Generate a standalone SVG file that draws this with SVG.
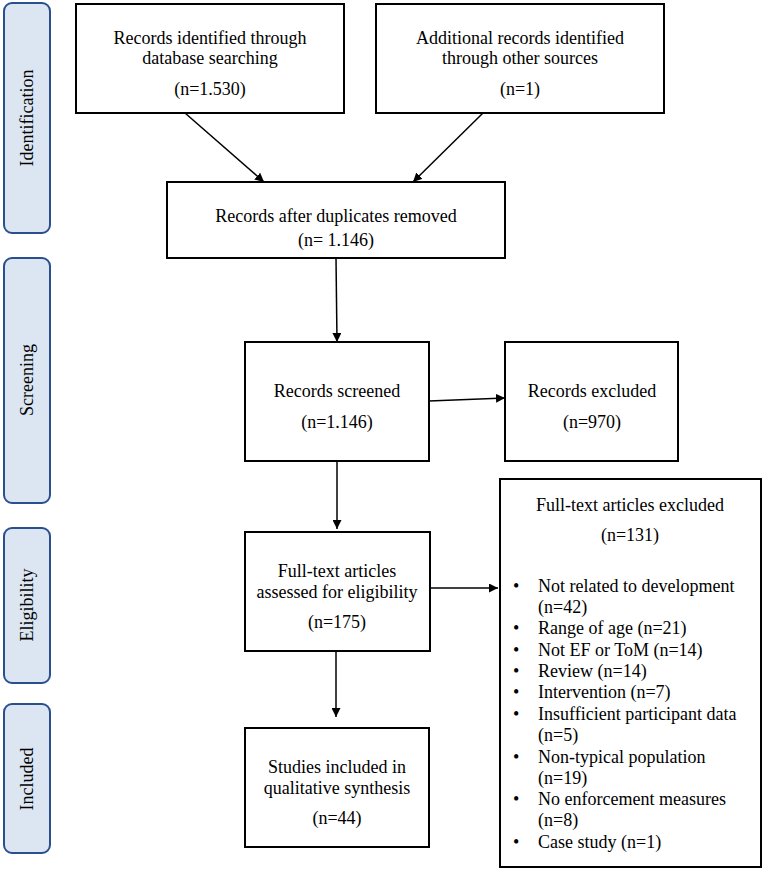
<svg xmlns="http://www.w3.org/2000/svg" width="765" height="869" viewBox="0 0 765 869">
<style>
.box{fill:#fff;stroke:#000;stroke-width:2}
.bar{fill:#dce6f2;stroke:#2a4f8f;stroke-width:2}
.con{stroke:#000;stroke-width:1.5;fill:none;marker-end:url(#ah)}
</style>
<defs>
<marker id="ah" viewBox="0 0 10 10" refX="10" refY="5" markerWidth="9" markerHeight="9" markerUnits="userSpaceOnUse" orient="auto">
<path d="M0,0 L10,5 L0,10 z" fill="#000"/>
</marker>
</defs>
<g id="bar-identification"><rect class="bar" x="4" y="3" width="46" height="230" rx="8"/><text font-family="Liberation Serif, serif" font-size="18" text-anchor="middle" transform="translate(33,118) rotate(-90)">Identification</text></g>
<g id="bar-screening"><rect class="bar" x="4" y="258" width="46" height="245" rx="8"/><text font-family="Liberation Serif, serif" font-size="18" text-anchor="middle" transform="translate(33,380) rotate(-90)">Screening</text></g>
<g id="bar-eligibility"><rect class="bar" x="4" y="528" width="46" height="155" rx="8"/><text font-family="Liberation Serif, serif" font-size="18" text-anchor="middle" transform="translate(33,605) rotate(-90)">Eligibility</text></g>
<g id="bar-included"><rect class="bar" x="4" y="704" width="46" height="149" rx="8"/><text font-family="Liberation Serif, serif" font-size="18" text-anchor="middle" transform="translate(33,779) rotate(-90)">Included</text></g>

<g id="n-db"><rect class="box" x="76" y="4" width="268" height="109"/><text font-family="Liberation Serif, serif" font-size="18" text-anchor="middle" x="210" y="44">Records identified through</text><text font-family="Liberation Serif, serif" font-size="18" text-anchor="middle" x="210" y="64">database searching</text><text font-family="Liberation Serif, serif" font-size="18" text-anchor="middle" x="210" y="95">(n=1.530)</text></g>
<g id="n-other"><rect class="box" x="376" y="4" width="288" height="109"/><text font-family="Liberation Serif, serif" font-size="18" text-anchor="middle" x="520" y="44">Additional records identified</text><text font-family="Liberation Serif, serif" font-size="18" text-anchor="middle" x="520" y="64">through other sources</text><text font-family="Liberation Serif, serif" font-size="18" text-anchor="middle" x="520" y="95">(n=1)</text></g>
<g id="n-dup"><rect class="box" x="167" y="182" width="338" height="76"/><text font-family="Liberation Serif, serif" font-size="18" text-anchor="middle" x="336" y="222">Records after duplicates removed</text><text font-family="Liberation Serif, serif" font-size="18" text-anchor="middle" x="336" y="246">(n= 1.146)</text></g>
<g id="n-screened"><rect class="box" x="245" y="342" width="184" height="119"/><text font-family="Liberation Serif, serif" font-size="18" text-anchor="middle" x="337" y="397">Records screened</text><text font-family="Liberation Serif, serif" font-size="18" text-anchor="middle" x="337" y="428">(n=1.146)</text></g>
<g id="n-excluded"><rect class="box" x="505" y="342" width="173" height="119"/><text font-family="Liberation Serif, serif" font-size="18" text-anchor="middle" x="592" y="397">Records excluded</text><text font-family="Liberation Serif, serif" font-size="18" text-anchor="middle" x="592" y="428">(n=970)</text></g>
<g id="n-fulltext"><rect class="box" x="245" y="532" width="185" height="119"/><text font-family="Liberation Serif, serif" font-size="18" text-anchor="middle" x="337" y="577">Full-text articles</text><text font-family="Liberation Serif, serif" font-size="18" text-anchor="middle" x="337" y="598">assessed for eligibility</text><text font-family="Liberation Serif, serif" font-size="18" text-anchor="middle" x="337" y="628">(n=175)</text></g>
<g id="n-included"><rect class="box" x="245" y="728" width="184" height="119"/><text font-family="Liberation Serif, serif" font-size="18" text-anchor="middle" x="337" y="773">Studies included in</text><text font-family="Liberation Serif, serif" font-size="18" text-anchor="middle" x="337" y="794">qualitative synthesis</text><text font-family="Liberation Serif, serif" font-size="18" text-anchor="middle" x="337" y="824">(n=44)</text></g>
<g id="n-ftexcluded"><rect class="box" x="500" y="479" width="261" height="388"/>
<text font-family="Liberation Serif, serif" font-size="18" text-anchor="middle" x="630" y="511">Full-text articles excluded</text><text font-family="Liberation Serif, serif" font-size="18" text-anchor="middle" x="630" y="541">(n=131)</text>
<text font-family="Liberation Serif, serif" font-size="18" x="513" y="592">•</text><text font-family="Liberation Serif, serif" font-size="18" x="538" y="592">Not related to development</text>
<text font-family="Liberation Serif, serif" font-size="18" x="538" y="613">(n=42)</text>
<text font-family="Liberation Serif, serif" font-size="18" x="513" y="634">•</text><text font-family="Liberation Serif, serif" font-size="18" x="538" y="634">Range of age (n=21)</text>
<text font-family="Liberation Serif, serif" font-size="18" x="513" y="656">•</text><text font-family="Liberation Serif, serif" font-size="18" x="538" y="656">Not EF or ToM (n=14)</text>
<text font-family="Liberation Serif, serif" font-size="18" x="513" y="677">•</text><text font-family="Liberation Serif, serif" font-size="18" x="538" y="677">Review (n=14)</text>
<text font-family="Liberation Serif, serif" font-size="18" x="513" y="698">•</text><text font-family="Liberation Serif, serif" font-size="18" x="538" y="698">Intervention (n=7)</text>
<text font-family="Liberation Serif, serif" font-size="18" x="513" y="720">•</text><text font-family="Liberation Serif, serif" font-size="18" x="538" y="720">Insufficient participant data</text>
<text font-family="Liberation Serif, serif" font-size="18" x="538" y="741">(n=5)</text>
<text font-family="Liberation Serif, serif" font-size="18" x="513" y="763">•</text><text font-family="Liberation Serif, serif" font-size="18" x="538" y="763">Non-typical population</text>
<text font-family="Liberation Serif, serif" font-size="18" x="538" y="784">(n=19)</text>
<text font-family="Liberation Serif, serif" font-size="18" x="513" y="805">•</text><text font-family="Liberation Serif, serif" font-size="18" x="538" y="805">No enforcement measures</text>
<text font-family="Liberation Serif, serif" font-size="18" x="538" y="826">(n=8)</text>
<text font-family="Liberation Serif, serif" font-size="18" x="513" y="848">•</text><text font-family="Liberation Serif, serif" font-size="18" x="538" y="848">Case study (n=1)</text>
</g>
<g id="connectors">
<line class="con" x1="185" y1="113" x2="264" y2="182"/>
<line class="con" x1="483" y1="113" x2="413" y2="182"/>
<line class="con" x1="336" y1="258" x2="337" y2="342"/>
<line class="con" x1="429" y1="401" x2="505" y2="398"/>
<line class="con" x1="337" y1="461" x2="337" y2="529"/>
<line class="con" x1="430" y1="588" x2="498" y2="588"/>
<line class="con" x1="336" y1="651" x2="336" y2="717"/>
</g>
</svg>
